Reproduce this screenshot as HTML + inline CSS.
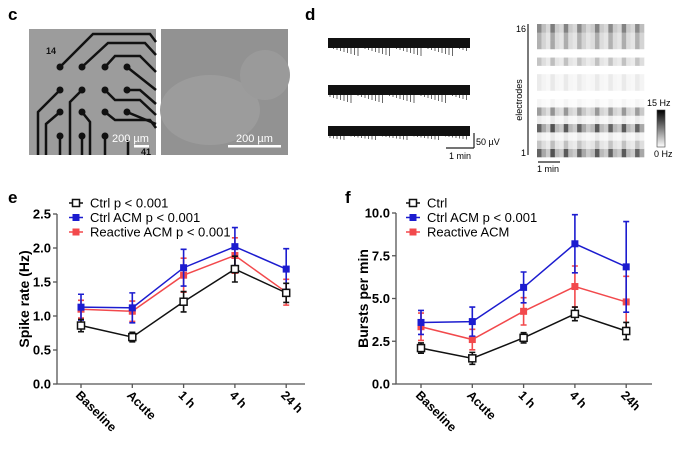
<!DOCTYPE html>
<html><head><meta charset="utf-8"><style>
body{margin:0;background:#fff;width:691px;height:451px;overflow:hidden;font-family:"Liberation Sans",Arial,sans-serif}
svg{display:block}
</style></head><body>
<svg id="fig" width="691" height="451" xmlns="http://www.w3.org/2000/svg" font-family="Liberation Sans, Arial, sans-serif">
<text x="8" y="20" font-size="17" font-weight="bold">c</text>
<text x="305" y="20" font-size="17" font-weight="bold">d</text>
<text x="8" y="203" font-size="17" font-weight="bold">e</text>
<text x="345" y="203" font-size="17" font-weight="bold">f</text>
<g>
<rect x="29" y="29" width="127" height="126" fill="#9c9c9c"/>
<g stroke="#111" stroke-width="2.5" fill="none">
<path d="M60 67 L93 34 L150 34 L156 42"/><path d="M82 67 L108 43 L145 43 L156 55"/>
<path d="M105 67 L115 56 L140 56 L156 72"/><path d="M127 67 L156 90"/>
<path d="M60 90 L38 112 L38 155"/><path d="M82 90 L70 102 L70 155"/>
<path d="M127 90 L140 90 L156 104"/><path d="M105 90 L115 100 L140 100 L156 115"/>
<path d="M60 112 L46 124 L46 155"/><path d="M82 112 L90 122 L90 155"/>
<path d="M105 112 L115 120 L150 120 L156 128"/><path d="M127 112 L156 124"/>
<path d="M60 136 V155"/><path d="M82 136 V155"/><path d="M105 136 V155"/><path d="M128 140 V155"/>
</g>
<g fill="#111"><circle cx="60" cy="67" r="3.5"/><circle cx="82" cy="67" r="3.5"/><circle cx="105" cy="67" r="3.5"/><circle cx="127" cy="67" r="3.5"/>
<circle cx="60" cy="90" r="3.5"/><circle cx="82" cy="90" r="3.5"/><circle cx="105" cy="90" r="3.5"/><circle cx="127" cy="90" r="3.5"/>
<circle cx="60" cy="112" r="3.5"/><circle cx="82" cy="112" r="3.5"/><circle cx="105" cy="112" r="3.5"/><circle cx="127" cy="112" r="3.5"/>
<circle cx="60" cy="136" r="3.5"/><circle cx="82" cy="136" r="3.5"/><circle cx="105" cy="136" r="3.5"/></g>
<text x="46" y="54" font-size="9" font-weight="bold" fill="#111">14</text>
<text x="112" y="142" font-size="11" fill="#fff">200 µm</text>
<rect x="134" y="145" width="15" height="2.5" fill="#fff"/>
<text x="141" y="155" font-size="9" font-weight="bold" fill="#111">41</text>
</g>
<g>
<rect x="161" y="29" width="127" height="126" fill="#929292"/>
<ellipse cx="210" cy="110" rx="50" ry="35" fill="#9c9c9c"/>
<ellipse cx="265" cy="75" rx="25" ry="25" fill="#9a9a9a"/>
<text x="236" y="142" font-size="11" fill="#fff">200 µm</text>
<rect x="228" y="145" width="53" height="2.5" fill="#fff"/>
</g>
<g id="traces"></g>
<g>
<path d="M446 148 H474 M474 133 V148" stroke="#222" stroke-width="1.2" fill="none"/>
<text x="476" y="145" font-size="9">50 µV</text>
<text x="449" y="159" font-size="9">1 min</text>
</g>
<g id="heat"></g>
<g>
<line x1="528" y1="24" x2="528" y2="155" stroke="#222" stroke-width="1.2"/>
<text x="516" y="32" font-size="9">16</text><text x="521" y="156" font-size="9">1</text>
<text transform="translate(522,100) rotate(-90)" font-size="9" text-anchor="middle">electrodes</text>
<line x1="538" y1="162" x2="560" y2="162" stroke="#222" stroke-width="1.2"/>
<text x="537" y="172" font-size="9">1 min</text>
</g>
<g>
<defs><linearGradient id="cb" x1="0" y1="0" x2="0" y2="1"><stop offset="0" stop-color="#000"/><stop offset="1" stop-color="#fff"/></linearGradient></defs>
<rect x="657" y="110" width="8" height="37" fill="url(#cb)" stroke="#444" stroke-width="0.6"/>
<text x="647" y="106" font-size="9">15 Hz</text><text x="654" y="157" font-size="9">0 Hz</text>
</g>
<g id="chartE"></g>
<g id="chartF"></g>
</svg>
<script>
const categories=["Baseline","Acute","1 h","4 h","24 h"];
const categoriesF=["Baseline","Acute","1 h","4 h","24h"];
const eTicks=["0.0","0.5","1.0","1.5","2.0","2.5"];
const eTickVals=[0,0.5,1,1.5,2,2.5];
const eCtrl=[0.86,0.69,1.21,1.69,1.34];
const eCtrlErr=[0.09,0.07,0.15,0.19,0.14];
const eCtrlACM=[1.13,1.12,1.71,2.02,1.69];
const eCtrlACMErr=[0.19,0.22,0.27,0.28,0.30];
const eReact=[1.10,1.07,1.60,1.89,1.35];
const eReactErr=[0.13,0.15,0.25,0.26,0.19];
const fTicks=["0.0","2.5","5.0","7.5","10.0"];
const fTickVals=[0,2.5,5,7.5,10];
const fCtrl=[2.1,1.5,2.7,4.1,3.1];
const fCtrlErr=[0.3,0.35,0.3,0.4,0.5];
const fCtrlACM=[3.6,3.65,5.65,8.2,6.85];
const fCtrlACMErr=[0.7,0.85,0.9,1.7,2.65];
const fReact=[3.35,2.6,4.25,5.7,4.8];
const fReactErr=[0.8,0.6,0.8,1.2,1.5];
const heatRows=[0.8,0.3,0.1,0.8,0.1,0.5,0.05,0,0.1,0.1,0,0.3,0,0.4,0.4,0.6];
const heatCols=[0.9,0.5,0.3,1,0.4,0.3,0.95,0.4,0.3,0.9,0.5,0.3,0.4,0.95,0.4,0.3,0.9,0.4,0.3,0.95,0.4,0.3,0.9,0.5];
const NS="http://www.w3.org/2000/svg";
function mk(tag,attrs,parent){const e=document.createElementNS(NS,tag);for(const k in attrs)e.setAttribute(k,attrs[k]);parent.appendChild(e);return e;}
const tr=document.getElementById('traces');
[43,90,131].forEach((cy,i)=>{
 const g=mk('rect',{x:328,y:cy-5,width:142,height:10,fill:'#111'},tr);
 
 
 let d='';
 for(let k=0;k<40;k++){const x=330+k*3.5;const h=((k*37+i*11)%9)*(i==2?0.5:1.0);d+=`M${x.toFixed(1)} ${cy+5} V${(cy+5+h).toFixed(1)} `;}
 const p=mk('path',{d:d,stroke:'#444','stroke-width':0.8},tr);
 
 
});
const hm=document.getElementById('heat');
const hx=537,hy=24,hw=107,hh=133,rh=hh/16,cw=hw/heatCols.length;
heatRows.forEach((rv,ri)=>{heatCols.forEach((cv,ci)=>{
 const v=Math.min(1,rv*cv);const c=Math.round(255*(1-v*0.85));
 const r=mk('rect',{x:hx+ci*cw,y:hy+hh-(ri+1)*rh,width:cw+0.3,height:rh+0.3,fill:`rgb(${c},${c},${c})`},hm);
 
 
});});
function chart(root,cfg){
 const g=document.getElementById(root);
 const y=v=>cfg.y0-(v-0)/cfg.ymax*(cfg.y0-cfg.yTop);
 const x=i=>cfg.xs[0]+i*(cfg.xs[1]-cfg.xs[0]);
 const ax=mk('path',{d:`M${cfg.x0} ${y(cfg.ymax)} V${cfg.y0} H${cfg.x1}`,stroke:'#555','stroke-width':1.3,fill:'none'},g);
 
 
 cfg.tickVals.forEach((tv,i)=>{
  mk('line',{x1:cfg.x0-4,x2:cfg.x0,y1:y(tv),y2:y(tv),stroke:'#555','stroke-width':1.3},g);
  const t=mk('text',{x:cfg.x0-6,y:y(tv)+4.5,'font-size':13,'font-weight':'bold','text-anchor':'end'},g);
  t.textContent=cfg.ticks[i];
  
  
 });
 cfg.cats.forEach((c,i)=>{
  mk('line',{x1:x(i),x2:x(i),y1:cfg.y0,y2:cfg.y0+4,stroke:'#555','stroke-width':1.3},g);
  const t=mk('text',{transform:`translate(${x(i)-6},${cfg.y0+12}) rotate(45)`,'font-size':12.5,'font-weight':'bold','text-anchor':'start'},g);
  t.textContent=c;
  
  
 });
 const yt=mk('text',{transform:`translate(${cfg.titleX},${(cfg.y0+cfg.yTop)/2}) rotate(-90)`,'font-size':14,'font-weight':'bold','text-anchor':'middle'},g);
 yt.textContent=cfg.title;
 
 
 cfg.series.forEach(s=>{
  const sg=mk('g',{},g);
  
  
  s.vals.forEach((v,i)=>{
   const e=s.err[i];
   mk('path',{d:`M${x(i)} ${y(v+e)} V${y(v-e)} M${x(i)-3} ${y(v+e)} H${x(i)+3} M${x(i)-3} ${y(v-e)} H${x(i)+3}`,stroke:s.color,'stroke-width':1.6,fill:'none'},sg);
  });
  mk('polyline',{points:s.vals.map((v,i)=>`${x(i)},${y(v)}`).join(' '),stroke:s.color,'stroke-width':1.5,fill:'none'},sg);
  s.vals.forEach((v,i)=>{
   const m=s.open?mk('rect',{x:x(i)-3.5,y:y(v)-3.5,width:7,height:7,fill:'#fff',stroke:s.color,'stroke-width':1.5},sg):mk('rect',{x:x(i)-3.5,y:y(v)-3.5,width:7,height:7,fill:s.color},sg);
   
   
  });
 });
 const order=[2,1,0];
 order.forEach((si,i)=>{
  const s=cfg.series[si]; const ly=203+i*14.5;
  const lg=mk('g',{},g);
  
  
  mk('line',{x1:cfg.lx-7,x2:cfg.lx+7,y1:ly,y2:ly,stroke:s.color,'stroke-width':1.5},lg);
  s.open?mk('rect',{x:cfg.lx-3.5,y:ly-3.5,width:7,height:7,fill:'#fff',stroke:s.color,'stroke-width':1.5},lg):mk('rect',{x:cfg.lx-3.5,y:ly-3.5,width:7,height:7,fill:s.color},lg);
  const t=mk('text',{x:cfg.lx+14,y:ly+4.5,'font-size':13},lg);t.textContent=s.label;
 });
}
const BLUE='#1c1ccf',RED='#f2494c',BLK='#111';
chart('chartE',{x0:57,x1:305,y0:384,yTop:214,ymax:2.5,xs:[81,132.3],ticks:eTicks,tickVals:eTickVals,cats:categories,title:'Spike rate (Hz)',titleX:29,lx:76,
 series:[{id:'reactive-acm',vals:eReact,err:eReactErr,color:RED,label:'Reactive ACM p < 0.001'},{id:'ctrl-acm',vals:eCtrlACM,err:eCtrlACMErr,color:BLUE,label:'Ctrl ACM p < 0.001'},{id:'ctrl',vals:eCtrl,err:eCtrlErr,color:BLK,open:true,label:'Ctrl p < 0.001'}]});
chart('chartF',{x0:396,x1:652,y0:384,yTop:213,ymax:10,xs:[421,472.3],ticks:fTicks,tickVals:fTickVals,cats:categoriesF,title:'Bursts per min',titleX:368,lx:413,
 series:[{id:'reactive-acm',vals:fReact,err:fReactErr,color:RED,label:'Reactive ACM'},{id:'ctrl-acm',vals:fCtrlACM,err:fCtrlACMErr,color:BLUE,label:'Ctrl ACM p < 0.001'},{id:'ctrl',vals:fCtrl,err:fCtrlErr,color:BLK,open:true,label:'Ctrl'}]});
</script>
</body></html>
